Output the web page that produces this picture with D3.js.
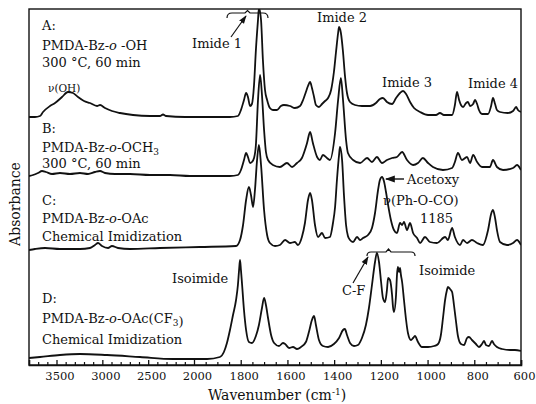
<!DOCTYPE html>
<html><head><meta charset="utf-8">
<script src="https://cdn.jsdelivr.net/npm/d3@7"></script>
<style>body{margin:0;background:#fff}svg{display:block}</style>
</head><body>
<svg id="chart" width="536" height="404"></svg>
<script>
// ---- data: [wavenumber (cm-1), absorbance (stacked, arbitrary units)] ----
const specA = [[3800,24.7],[3735,24.7],[3680,24.8],[3647,25.2],[3571,25.8],[3516,26.1],[3440,26.7],[3375,27.2],[3320,27.1],[3265,26.7],[3200,26.3],[3135,26.1],[3058,25.8],[3025,25.9],[2971,25.6],[2895,25.3],[2807,25.1],[2665,24.9],[2480,24.8],[2371,24.8],[2338,24.95],[2305,24.8],[2098,24.7],[1975,24.7],[1846,24.7],[1812,24.8],[1799,25.4],[1786,26.4],[1777,27.1],[1769,26.7],[1760,25.8],[1752,26.0],[1743,27.9],[1735,31.4],[1726,34.4],[1722,35.6],[1713,34.4],[1705,30.4],[1696,27.4],[1687,26.4],[1675,25.6],[1662,25.4],[1645,25.4],[1628,25.8],[1615,25.9],[1589,25.8],[1568,25.6],[1546,25.8],[1533,26.4],[1521,27.2],[1512,27.8],[1503,28.2],[1495,27.6],[1486,26.7],[1478,25.9],[1465,25.7],[1452,26.0],[1439,26.3],[1426,26.6],[1413,27.4],[1401,29.2],[1392,31.2],[1383,33.1],[1379,33.7],[1371,33.1],[1362,31.2],[1354,28.9],[1345,27.1],[1332,26.2],[1311,25.9],[1281,25.8],[1246,25.8],[1221,26.1],[1204,26.5],[1191,26.6],[1174,26.2],[1152,26.0],[1135,26.6],[1118,27.1],[1105,27.3],[1092,27.0],[1075,26.2],[1058,25.6],[1032,25.2],[998,24.9],[964,24.9],[947,25.1],[930,24.9],[895,24.9],[883,25.9],[874,27.2],[865,26.4],[857,25.9],[848,25.7],[835,26.1],[827,26.2],[818,25.8],[805,26.0],[797,26.4],[788,26.0],[780,25.4],[767,25.0],[741,25.0],[728,25.8],[720,26.6],[711,26.0],[703,25.4],[690,25.2],[656,25.1],[634,25.3],[621,25.7],[613,25.4],[600,25.2]];
const specB = [[3800,18.8],[3756,18.9],[3702,19.1],[3658,19.3],[3615,19.2],[3549,19.0],[3462,19.1],[3353,19.0],[3244,19.1],[3156,19.0],[3080,19.2],[3025,19.3],[2971,19.1],[2862,19.0],[2698,19.0],[2480,18.9],[2262,18.9],[2044,18.8],[1846,18.8],[1812,18.9],[1799,19.4],[1786,20.4],[1777,21.1],[1769,20.7],[1760,20.1],[1752,20.2],[1743,20.6],[1735,21.9],[1726,26.4],[1717,28.9],[1709,26.9],[1700,23.4],[1692,21.2],[1683,20.4],[1662,19.9],[1632,19.7],[1602,20.1],[1580,19.7],[1559,20.1],[1538,20.6],[1516,22.1],[1503,23.2],[1491,22.1],[1473,20.7],[1461,20.4],[1448,20.9],[1431,20.6],[1418,20.4],[1396,23.1],[1383,26.4],[1371,28.6],[1362,26.4],[1349,22.4],[1341,21.1],[1319,20.4],[1289,20.1],[1259,20.6],[1238,20.2],[1217,20.7],[1195,20.1],[1174,20.4],[1152,20.6],[1131,20.7],[1109,21.2],[1088,20.4],[1062,19.9],[1041,20.1],[1020,20.6],[998,20.1],[977,19.7],[934,19.4],[895,19.6],[883,20.2],[870,21.1],[853,20.4],[831,20.7],[818,20.1],[805,20.9],[788,20.2],[767,19.7],[733,19.7],[720,20.4],[703,19.7],[677,19.4],[634,19.6],[617,19.9],[600,19.4]];
const specC = [[3800,11.4],[3735,11.5],[3625,11.6],[3462,11.5],[3244,11.5],[3135,11.6],[3080,11.9],[3047,12.1],[3004,11.8],[2938,11.6],[2895,11.8],[2829,11.6],[2698,11.5],[2371,11.6],[1975,11.7],[1820,11.8],[1803,12.4],[1790,13.9],[1777,16.4],[1765,17.7],[1756,16.9],[1747,15.7],[1739,17.4],[1730,20.4],[1722,21.9],[1713,19.9],[1700,15.4],[1687,12.9],[1675,12.1],[1653,11.8],[1632,11.9],[1610,12.4],[1589,12.1],[1568,12.2],[1555,11.9],[1538,12.7],[1525,14.1],[1512,16.4],[1503,17.1],[1495,16.4],[1482,13.9],[1469,12.7],[1452,13.1],[1439,12.6],[1418,12.7],[1405,14.1],[1396,15.7],[1388,18.4],[1379,20.9],[1375,21.7],[1366,20.4],[1358,16.9],[1349,13.9],[1341,12.8],[1332,12.4],[1319,12.2],[1302,12.7],[1289,12.4],[1276,12.6],[1255,12.9],[1238,13.6],[1225,15.1],[1212,17.4],[1204,18.4],[1195,18.7],[1187,18.3],[1178,17.2],[1169,15.9],[1157,14.4],[1144,13.4],[1131,13.1],[1118,14.1],[1109,13.9],[1101,14.2],[1088,13.4],[1075,14.1],[1062,13.1],[1045,12.6],[1032,12.1],[1011,12.7],[990,12.2],[960,12.1],[925,12.7],[913,12.4],[895,13.6],[883,12.7],[861,11.9],[848,12.4],[831,12.1],[810,12.4],[788,12.1],[763,11.9],[741,13.4],[728,15.0],[720,15.4],[711,14.6],[703,13.4],[690,12.2],[660,11.9],[634,12.1],[617,12.4],[600,11.9]];
const specD = [[3800,0.6],[3680,0.7],[3462,0.9],[3244,1.0],[2949,0.9],[2589,0.7],[2229,0.5],[2044,0.5],[1944,0.5],[1889,0.7],[1872,1.2],[1859,2.1],[1846,3.4],[1833,4.9],[1820,6.4],[1812,7.9],[1807,9.4],[1803,10.4],[1799,9.4],[1794,7.9],[1786,5.4],[1777,3.4],[1765,2.2],[1752,2.1],[1735,2.8],[1722,3.9],[1709,5.6],[1700,6.6],[1692,5.9],[1683,4.6],[1670,2.9],[1657,2.1],[1636,1.8],[1619,2.1],[1610,2.0],[1593,1.6],[1576,1.7],[1559,1.5],[1542,1.7],[1521,2.2],[1508,3.2],[1495,4.4],[1486,4.8],[1478,3.9],[1465,2.4],[1448,1.8],[1426,1.7],[1401,2.0],[1379,2.6],[1362,3.4],[1354,3.5],[1345,2.9],[1332,2.1],[1315,1.8],[1298,1.9],[1281,2.6],[1264,3.9],[1251,5.6],[1238,7.9],[1225,10.2],[1217,11.1],[1208,10.2],[1199,8.2],[1191,6.6],[1182,6.2],[1174,7.4],[1169,8.6],[1161,8.4],[1152,6.9],[1148,5.7],[1144,5.2],[1135,6.9],[1131,8.9],[1127,9.7],[1122,9.2],[1118,9.6],[1114,8.9],[1109,8.2],[1101,6.4],[1092,4.4],[1084,3.1],[1071,2.4],[1062,2.6],[1054,2.8],[1041,2.2],[1024,1.7],[998,1.7],[972,1.8],[955,2.0],[943,2.9],[934,4.6],[925,6.4],[917,7.4],[913,7.7],[904,7.5],[895,7.2],[887,5.9],[878,4.2],[870,2.8],[857,2.0],[844,1.9],[831,2.6],[823,2.7],[810,2.4],[793,2.0],[780,1.7],[767,2.0],[758,2.3],[750,1.9],[737,1.8],[724,2.3],[716,2.0],[703,1.7],[681,1.5],[647,1.4],[626,1.4],[600,1.3]];
const seriesList = [specA, specB, specC, specD];

const majorTicks = [3500,3000,2500,2000,1800,1600,1400,1200,1000,800,600];
const xBreaks = [3800, 2000, 600];
const xTitle = "Wavenumber (cm";
const yTitle = "Absorbance";

// sample labels: each line = list of [text, style] ("", "i" italic, "s" subscript)
const labelA = [[["A:",""]],[["PMDA-Bz-",""],["o","i"],[" -OH",""]],[["300 °C, 60 min",""]]];
const labelB = [[["B:",""]],[["PMDA-Bz-",""],["o","i"],["-OCH",""],["3","s"]],[["300 °C, 60 min",""]]];
const labelC = [[["C:",""]],[["PMDA-Bz-",""],["o","i"],["-OAc",""]],[["Chemical Imidization",""]]];
const labelD = [[["D:",""]],[["PMDA-Bz-",""],["o","i"],["-OAc(CF",""],["3","s"],[")",""]],[["Chemical Imidization",""]]];
const annText = ["Imide 1","Imide 2","Imide 3","Imide 4","ν(OH)","Isoimide","Isoimide","C-F","Acetoxy","ν(Ph-O-CO)","1185"];

// ---- drawing ----
const svg = d3.select("#chart");
const L = 29, R = 521, T = 9, B = 365;
const x = d3.scaleLinear().domain(xBreaks).range([L, 194, R]);
const y = d3.scaleLinear().domain([-0.1, 35.5]).range([B, T]);
const FONT = "'DejaVu Serif', 'Liberation Serif', serif";
const ink = "#111";

svg.append("defs").append("clipPath").attr("id","plot")
  .append("rect").attr("x",L).attr("y",T).attr("width",R-L).attr("height",B-T);
const mk = svg.select("defs").append("marker").attr("id","arr").attr("viewBox","0 0 10 10")
  .attr("refX",9).attr("refY",5).attr("markerWidth",7).attr("markerHeight",7).attr("orient","auto");
mk.append("path").attr("d","M0,1.5 L10,5 L0,8.5 Z").attr("fill",ink);

const line = d3.line().x(d=>x(d[0])).y(d=>y(d[1])).curve(d3.curveMonotoneX);
svg.append("g").attr("clip-path","url(#plot)").selectAll("path").data(seriesList).join("path")
  .attr("d", line).attr("fill","none").attr("stroke",ink).attr("stroke-width",1.8)
  .attr("stroke-linejoin","round");

// frame
svg.append("rect").attr("x",L).attr("y",T).attr("width",R-L).attr("height",B-T)
  .attr("fill","none").attr("stroke",ink).attr("stroke-width",1.4);

// axis
const minor = d3.range(2100,3800,100).concat(d3.range(650,2000,50)).filter(v=>!majorTicks.includes(v));
const gMinor = svg.append("g").attr("transform",`translate(0,${B})`)
  .call(d3.axisBottom(x).tickValues(minor).tickSize(-3).tickFormat(""));
gMinor.select(".domain").remove();
gMinor.selectAll("line").attr("stroke",ink).attr("stroke-width",1.2);
const gAx = svg.append("g").attr("transform",`translate(0,${B})`)
  .call(d3.axisBottom(x).tickValues(majorTicks).tickSize(-5).tickPadding(7).tickFormat(d3.format("d")));
gAx.select(".domain").attr("stroke",ink).attr("stroke-width",1.6);
gAx.selectAll("line").attr("stroke",ink).attr("stroke-width",1.3);
gAx.selectAll("text").attr("font-family",FONT).attr("font-size",11.5).attr("fill",ink)
  .attr("dx",3);

const xt = svg.append("text").attr("x",277).attr("y",400).attr("text-anchor","middle")
  .attr("font-family",FONT).attr("font-size",14).attr("fill",ink);
xt.append("tspan").text(xTitle);
xt.append("tspan").text("-1").attr("font-size",9).attr("dy",-5);
xt.append("tspan").text(")").attr("dy",5);

svg.append("text").attr("transform","translate(20,204) rotate(-90)").attr("text-anchor","middle")
  .attr("font-family",FONT).attr("font-size",14).attr("fill",ink).text(yTitle);

// sample labels
function drawLabel(lines, x0, ys){
  lines.forEach((parts,i)=>{
    const t = svg.append("text").attr("x",x0).attr("y",ys[i]).attr("font-family",FONT)
      .attr("font-size",13).attr("fill",ink);
    parts.forEach(([s,st])=>{
      const ts = t.append("tspan").text(s);
      if(st==="i") ts.attr("font-style","italic");
      if(st==="s") ts.attr("font-size",9).attr("dy",3);
    });
  });
}
drawLabel(labelA, 42, [30,50,67]);
drawLabel(labelB, 42, [133,152,168]);
drawLabel(labelC, 42, [205,223,241]);
drawLabel(labelD, 42, [303,323,344]);

function txt(s, xx, yy, size){
  return svg.append("text").attr("x",xx).attr("y",yy).attr("font-family",FONT)
    .attr("font-size",size||13).attr("fill",ink).text(s);
}
txt(annText[0],192,48);
txt(annText[1],317,22);
txt(annText[2],382,87);
txt(annText[3],468,88);
txt(annText[4],48,92,10.5);
txt(annText[5],172,283);
txt(annText[6],419,275);
txt(annText[7],342,295);
txt(annText[8],407,184);
txt(annText[9],383,205);
txt(annText[10],420,223);

// brackets and arrows
svg.append("path").attr("d","M227,18 Q227,13 232,13 L245,13 L247.5,10.5 L250,13 L263,13 Q268,13 268,18")
  .attr("fill","none").attr("stroke",ink).attr("stroke-width",1.2);
svg.append("path").attr("d","M231,37 L246,16").attr("stroke",ink).attr("stroke-width",1.2).attr("marker-end","url(#arr)");
svg.append("path").attr("d","M367,256 Q367,252 371,252 L386,252 L388.5,249 L391,252 L411,252 Q415,252 415,256")
  .attr("fill","none").attr("stroke",ink).attr("stroke-width",1.2);
svg.append("path").attr("d","M353,283 L368,257").attr("stroke",ink).attr("stroke-width",1.2).attr("marker-end","url(#arr)");
svg.append("path").attr("d","M404,179 L386,179").attr("stroke",ink).attr("stroke-width",1.4).attr("marker-end","url(#arr)");
</script>
</body></html>
